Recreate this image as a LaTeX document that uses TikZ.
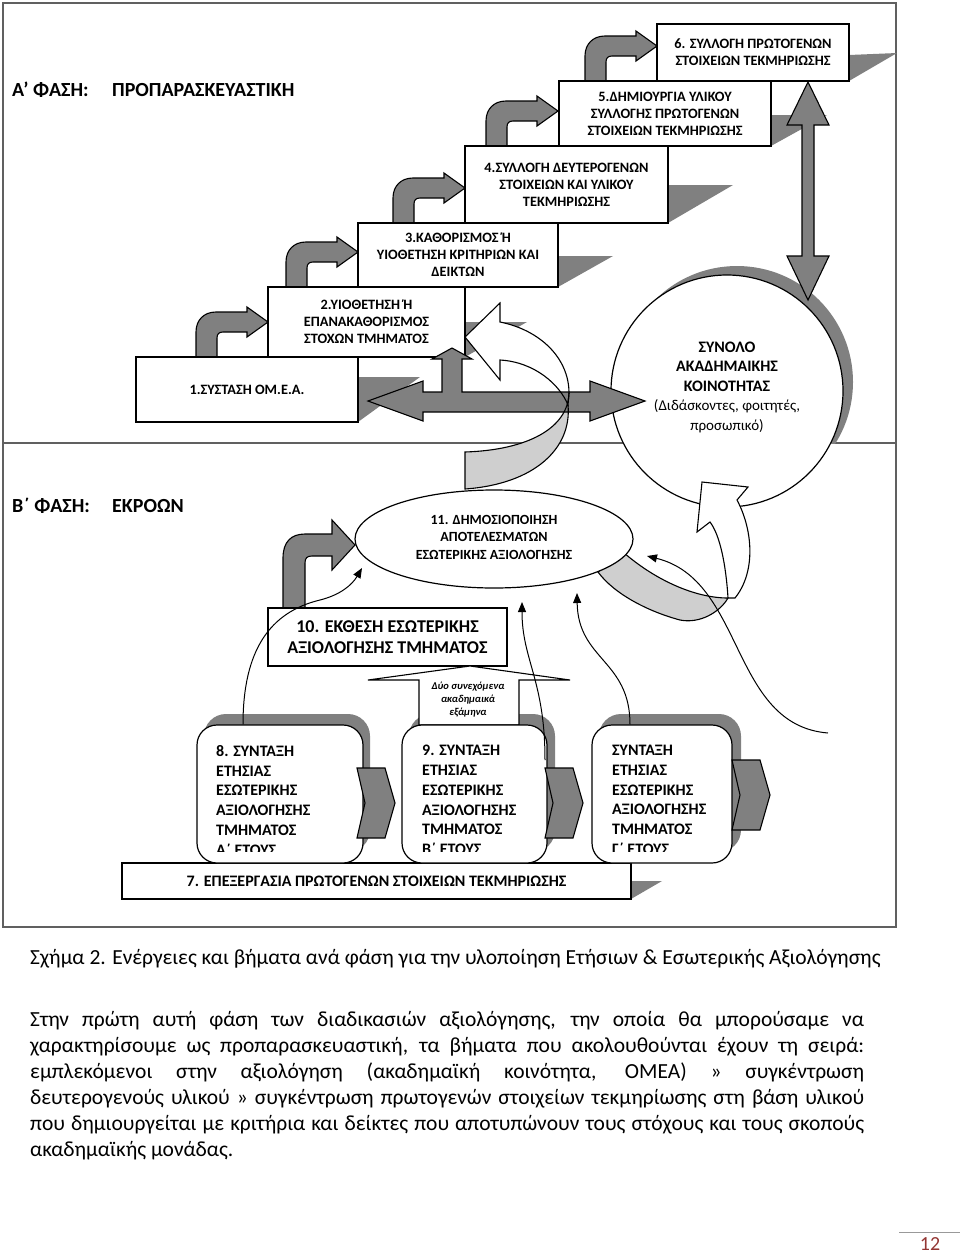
\documentclass[tikz,border=0pt]{standalone}
\usepackage{fontspec}
\setmainfont{Carlito}
\usetikzlibrary{arrows.meta,shapes.geometric}

\definecolor{dgray}{HTML}{808080}
\definecolor{lgray}{HTML}{CFCFCF}
\definecolor{framec}{HTML}{606060}
\definecolor{pgnum}{HTML}{943634}

\tikzset{
  stair/.style={draw=black, line width=1.2pt, fill=white, inner sep=0pt, align=center, font=\fontsize{14.3}{17}\selectfont\bfseries},
  shadowfill/.style={fill=dgray, draw=none},
  garrow/.style={fill=dgray, draw=black, line width=1.1pt},
  ribbonline/.style={draw=black, line width=1.1pt},
  conn/.style={draw=black, line width=1pt, -{Triangle[length=10pt,width=8pt]}},
  bentA/.pic={\path[garrow] (0,0) -- (0,-25) .. controls (0,-37) and (8,-45) .. (20,-45) -- (51,-45) -- (51,-50) -- (72,-35) -- (51,-20) -- (51,-25) -- (27,-25) .. controls (23,-25) and (21,-23) .. (21,-19) -- (21,0) -- cycle;},
  bentB/.pic={\path[garrow] (0,0) -- (0,-50) .. controls (0,-66) and (8,-74) .. (22,-74) -- (49,-74) -- (49,-88) -- (72,-63) -- (49,-38) -- (49,-52) -- (29,-52) .. controls (24,-52) and (22,-50) .. (22,-45) -- (22,0) -- cycle;},
  roundbox/.style={draw=black, line width=1.2pt, fill=white, rounded corners=20pt, inner sep=0pt},
  boxtext/.style={anchor=north west, inner sep=0pt, align=left, font=\fontsize{16}{19.8}\selectfont\bfseries},
  chevron/.style={fill=dgray, draw=black, line width=1.1pt},
  phase/.style={anchor=base west, inner sep=0pt, font=\fontsize{20}{23}\selectfont\bfseries},
  body/.style={anchor=base west, inner sep=0pt, font=\fontsize{21.5}{26}\selectfont},
}

\begin{document}
\begin{tikzpicture}[x=1pt,y=-1pt]
\useasboundingbox (0,0) rectangle (960,1254);
\fill[white] (0,0) rectangle (960,1254);

% frame
\draw[framec, line width=1.3pt] (3,3) rectangle (896,927);
\draw[framec, line width=1.3pt] (3,443) -- (896,443);

% stair shadows
\fill[shadowfill] (849,55) -- (897,53) -- (849,81) -- cycle;
\fill[shadowfill] (771,115) -- (827,115) -- (771,146) -- cycle;
\fill[shadowfill] (668,185) -- (733,185) -- (668,223) -- cycle;
\fill[shadowfill] (558,256) -- (613,256) -- (558,287) -- cycle;
\fill[shadowfill] (465,322) -- (527,322) -- (465,357) -- cycle;
\fill[shadowfill] (358,377) -- (420,377) -- (358,422) -- cycle;

% bent arrows between stairs
\pic at (196,357) {bentA};
\pic at (286,287) {bentA};
\pic at (393,223) {bentA};
\pic at (486,146) {bentA};
\pic at (585,81) {bentA};

% stair boxes
\node[stair, minimum width=222pt, minimum height=65pt] (b1) at (247,389.5) {1.ΣΥΣΤΑΣΗ ΟΜ.Ε.Α.};
\node[stair, minimum width=197pt, minimum height=70pt] (b2) at (366.5,322) {2.ΥΙΟΘΕΤΗΣΗ Ή\\ΕΠΑΝΑΚΑΘΟΡΙΣΜΟΣ\\ΣΤΟΧΩΝ ΤΜΗΜΑΤΟΣ};
\node[stair, minimum width=200pt, minimum height=64pt] (b3) at (458,255) {3.ΚΑΘΟΡΙΣΜΟΣ Ή\\ΥΙΟΘΕΤΗΣΗ ΚΡΙΤΗΡΙΩΝ ΚΑΙ\\ΔΕΙΚΤΩΝ};
\node[stair, minimum width=203pt, minimum height=77pt] (b4) at (566.5,184.5) {4.ΣΥΛΛΟΓΗ ΔΕΥΤΕΡΟΓΕΝΩΝ\\ΣΤΟΙΧΕΙΩΝ ΚΑΙ ΥΛΙΚΟΥ\\ΤΕΚΜΗΡΙΩΣΗΣ};
\node[stair, minimum width=212pt, minimum height=65pt] (b5) at (665,113.5) {5.ΔΗΜΙΟΥΡΓΙΑ ΥΛΙΚΟΥ\\ΣΥΛΛΟΓΗΣ ΠΡΩΤΟΓΕΝΩΝ\\ΣΤΟΙΧΕΙΩΝ ΤΕΚΜΗΡΙΩΣΗΣ};
\node[stair, minimum width=192pt, minimum height=57pt] (b6) at (753,52.5) {6. ΣΥΛΛΟΓΗ ΠΡΩΤΟΓΕΝΩΝ\\ΣΤΟΙΧΕΙΩΝ ΤΕΚΜΗΡΙΩΣΗΣ};

% circle with shadow
\begin{scope}
\clip (600,250) rectangle (900,443);
\fill[dgray] (737,382) circle[radius=116pt];
\end{scope}
\node[circle, draw=black, line width=1.2pt, fill=white, minimum size=232pt, inner sep=0pt] (circ) at (727,391) {};

% vertical double arrow box 6 <-> circle
\path[garrow] (808,82) -- (829,125) -- (814,125) -- (814,256) -- (829,256) -- (808,300) -- (787,256) -- (802,256) -- (802,125) -- (787,125) -- cycle;

% ribbon (circular arrow back to box 2): fills
\fill[lgray] (569,393) .. controls (568,428) and (528,450) .. (465,452) -- (465,489) .. controls (535,484) and (572,448) .. (568,405) -- cycle;
\fill[white] (465,337) -- (500,303) -- (500,322) .. controls (540,330) and (569,358) .. (569,393) -- (568,405) .. controls (560,385) and (535,362) .. (500,360) -- (500,380) -- cycle;

% left-right-up arrow
\path[garrow] (368,401) -- (423,381) -- (423,392) -- (442,392) -- (442,359) -- (432,359) -- (452,348) -- (472,359) -- (462,359) -- (462,392) -- (590,392) -- (590,381) -- (645,401) -- (590,421) -- (590,412) -- (423,412) -- (423,421) -- cycle;

% ribbon outlines
\draw[ribbonline] (569,393) .. controls (568,428) and (528,450) .. (465,452) -- (465,489) .. controls (535,484) and (572,448) .. (568,405);
\draw[ribbonline] (465,337) -- (500,303) -- (500,322) .. controls (540,330) and (569,358) .. (569,393) -- (568,405) .. controls (560,385) and (535,362) .. (500,360) -- (500,380) -- cycle;

% circle text
\node[align=center, inner sep=0pt, font=\fontsize{16}{19.5}\selectfont\bfseries] (circtext) at (727,387)
 {ΣΥΝΟΛΟ\\ΑΚΑΔΗΜΑΙΚΗΣ\\ΚΟΙΝΟΤΗΤΑΣ\\\mdseries\fontsize{15}{19.5}\selectfont (Διδάσκοντες, φοιτητές,\\\mdseries\fontsize{15}{19.5}\selectfont προσωπικό)};

% lower-right band and up arrow into the circle
\path[fill=lgray, draw=black, line width=1.1pt] (623,552) .. controls (655,580) and (695,598) .. (728,598) .. controls (720,612) and (700,624) .. (680,620) .. controls (650,612) and (615,595) .. (598,572) -- cycle;
\path[fill=white, draw=black, line width=1.1pt] (728,598) .. controls (726,565) and (720,535) .. (710,522) -- (697,532) -- (702,482) -- (748,487) -- (737,500) .. controls (753,530) and (756,572) .. (735,598) -- cycle;

% ellipse 11
\node[ellipse, draw=black, line width=1.2pt, fill=white, minimum width=278pt, minimum height=98pt, inner sep=0pt] (e11) at (494,539) {};
\node[align=center, inner sep=0pt, font=\fontsize{14}{17.5}\selectfont\bfseries] (e11text) at (494,537) {11. ΔΗΜΟΣΙΟΠΟΙΗΣΗ\\ΑΠΟΤΕΛΕΣΜΑΤΩΝ\\ΕΣΩΤΕΡΙΚΗΣ ΑΞΙΟΛΟΓΗΣΗΣ};

% box 10 and its arrow
\pic at (283,608) {bentB};
\node[draw=black, line width=1.2pt, fill=white, minimum width=239pt, minimum height=58pt, inner sep=0pt, align=center, font=\fontsize{18}{20.5}\selectfont\bfseries] (b10) at (387.5,637) {10. ΕΚΘΕΣΗ ΕΣΩΤΕΡΙΚΗΣ\\ΑΞΙΟΛΟΓΗΣΗΣ ΤΜΗΜΑΤΟΣ};

% bottom row shadows
\fill[dgray, rounded corners=22pt] (204,714) rectangle (370,852);
\fill[dgray, rounded corners=22pt] (409,714) rectangle (555,852);
\fill[dgray, rounded corners=22pt] (599,714) rectangle (741,852);

% callout
\path[fill=white, draw=black, line width=1.1pt] (419,725) -- (419,680) -- (368,680) -- (470,666) -- (570,680) -- (519,680) -- (519,725) -- cycle;
\node[align=center, inner sep=0pt, font=\fontsize{10.5}{13}\selectfont\bfseries\itshape] (calltext) at (468,700) {Δύο συνεχόμενα\\ακαδημαικά\\εξάμηνα};

% box 7
\fill[shadowfill] (631,881) -- (662,881) -- (631,899) -- cycle;
\node[draw=black, line width=1.2pt, fill=white, minimum width=509pt, minimum height=36pt, inner sep=0pt, font=\fontsize{16}{19}\selectfont\bfseries] (b7) at (376.5,881) {7. ΕΠΕΞΕΡΓΑΣΙΑ ΠΡΩΤΟΓΕΝΩΝ ΣΤΟΙΧΕΙΩΝ ΤΕΚΜΗΡΙΩΣΗΣ};

% rounded boxes
\node[roundbox, minimum width=166pt, minimum height=138pt] (b8) at (280,794) {};
\node[roundbox, minimum width=145pt, minimum height=138pt] (b9) at (474.5,794) {};
\node[roundbox, minimum width=140pt, minimum height=138pt] (bG) at (662,794) {};

% chevrons
\path[chevron] (357,768) -- (385,768) -- (395,803) -- (385,838) -- (357,838) -- (365,803) -- cycle;
\path[chevron] (545,768) -- (573,768) -- (583,803) -- (573,838) -- (545,838) -- (553,803) -- cycle;
\path[chevron] (732,760) -- (760,760) -- (770,795) -- (760,830) -- (732,830) -- (740,795) -- cycle;

% texts of rounded boxes, clipped
\begin{scope}
\clip (190,715) rectangle (760,851);
\node[boxtext] (t8) at (216,745) {8. ΣΥΝΤΑΞΗ\\ΕΤΗΣΙΑΣ\\ΕΣΩΤΕΡΙΚΗΣ\\ΑΞΙΟΛΟΓΗΣΗΣ\\ΤΜΗΜΑΤΟΣ\\Α΄ ΕΤΟΥΣ};
\node[boxtext] (t9) at (422,745) {9. ΣΥΝΤΑΞΗ\\ΕΤΗΣΙΑΣ\\ΕΣΩΤΕΡΙΚΗΣ\\ΑΞΙΟΛΟΓΗΣΗΣ\\ΤΜΗΜΑΤΟΣ\\Β΄ ΕΤΟΥΣ};
\node[boxtext] (tG) at (612,745) {ΣΥΝΤΑΞΗ\\ΕΤΗΣΙΑΣ\\ΕΣΩΤΕΡΙΚΗΣ\\ΑΞΙΟΛΟΓΗΣΗΣ\\ΤΜΗΜΑΤΟΣ\\Γ΄ ΕΤΟΥΣ};
\end{scope}

% thin connectors
\coordinate (c1e) at (362,568);
\coordinate (c2s) at (545,760);
\coordinate (c2e) at (522,602);
\coordinate (c3e) at (577,593);
\coordinate (c4s) at (828,733);
\coordinate (c4e) at (647,556);
\draw[conn] ([xshift=-37pt]b8.north) .. controls (243,650) and (270,612) .. (320,600) .. controls (340,595) and (352,585) .. (c1e);
\draw[conn] (c2s) .. controls (545,680) and (522,660) .. (c2e);
\draw[conn] ([xshift=-32pt]bG.north) .. controls (630,660) and (578,660) .. (c3e);
\draw[conn] (c4s) .. controls (730,725) and (745,580) .. (c4e);

% phase labels
\node[phase] (pa1) at (12,96) {Α’ ΦΑΣΗ:};
\node[phase] (pa2) at (112,96) {ΠΡΟΠΑΡΑΣΚΕΥΑΣΤΙΚΗ};
\node[phase] (pb1) at (12,512) {Β΄ ΦΑΣΗ:};
\node[phase] (pb2) at (112,512) {ΕΚΡΟΩΝ};

% caption and body
\node[body] (cap) at (30,964) {Σχήμα 2. Ενέργειες και βήματα ανά φάση για την υλοποίηση Ετήσιων \& Εσωτερικής Αξιολόγησης};
\node[body] (l1) at (30,1026) {\makebox[834pt][s]{Στην πρώτη αυτή φάση των διαδικασιών αξιολόγησης, την οποία θα μπορούσαμε να}};
\node[body] (l2) at (30,1052) {\makebox[834pt][s]{χαρακτηρίσουμε ως προπαρασκευαστική, τα βήματα που ακολουθούνται έχουν τη σειρά:}};
\node[body] (l3) at (30,1078) {\makebox[834pt][s]{εμπλεκόμενοι στην αξιολόγηση (ακαδημαϊκή κοινότητα, ΟΜΕΑ) » συγκέντρωση}};
\node[body] (l4) at (30,1104) {\makebox[834pt][s]{δευτερογενούς υλικού » συγκέντρωση πρωτογενών στοιχείων τεκμηρίωσης στη βάση υλικού}};
\node[body] (l5) at (30,1130) {\makebox[834pt][s]{που δημιουργείται με κριτήρια και δείκτες που αποτυπώνουν τους στόχους και τους σκοπούς}};
\node[body] (l6) at (30,1156) {ακαδημαϊκής μονάδας.};

% page number
\draw[black!40, line width=0.8pt] (899,1232) -- (960,1232);
\node[anchor=base, inner sep=0pt, font=\fontsize{20}{24}\selectfont, text=pgnum] (pg) at (930,1250) {12};
\end{tikzpicture}
\end{document}
